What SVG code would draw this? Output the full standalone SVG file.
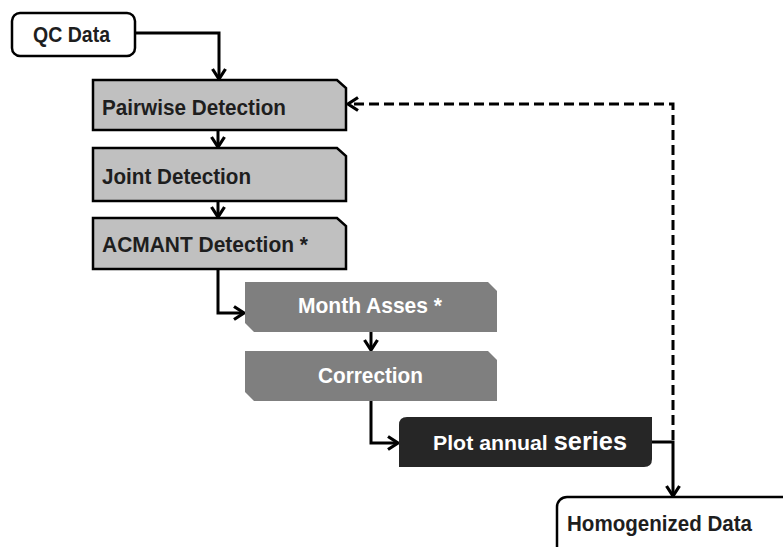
<svg xmlns="http://www.w3.org/2000/svg" width="783" height="547" viewBox="0 0 783 547">
<style>
.lbl{font-family:"Liberation Sans",Arial,sans-serif;font-weight:bold;fill:#1e1e1e;font-size:22px}
.wlbl{font-family:"Liberation Sans",Arial,sans-serif;font-weight:bold;fill:#ffffff;font-size:22px}
.term{fill:#ffffff;stroke:#000;stroke-width:2.5}
.det{fill:#c0c0c0;stroke:#000;stroke-width:2.5}
.proc{fill:#7f7f7f}
.plot{fill:#262626}
.conn{fill:none;stroke:#000;stroke-width:3}
.dash{fill:none;stroke:#000;stroke-width:3;stroke-dasharray:10 5}
</style>
<defs>
<marker id="arr" markerUnits="userSpaceOnUse" markerWidth="16" markerHeight="16" viewBox="0 0 16 16" refX="13" refY="8" orient="auto">
<path d="M3,1.5 L13,8 L3,14.5" fill="none" stroke="#000" stroke-width="3.2"/>
</marker>
</defs>
<rect width="783" height="547" fill="#ffffff"/>
<g id="connectors">
<path class="conn" d="M135,33 H219 V79" marker-end="url(#arr)"/>
<path class="conn" d="M218,130 V147" marker-end="url(#arr)"/>
<path class="conn" d="M218,201 V217" marker-end="url(#arr)"/>
<path class="conn" d="M218,269 V313 H244" marker-end="url(#arr)"/>
<path class="conn" d="M371,332 V350" marker-end="url(#arr)"/>
<path class="conn" d="M371,401 V443 H398" marker-end="url(#arr)"/>
<path class="conn" d="M652,442 H673 V496" marker-end="url(#arr)"/>
<path class="dash" d="M673,440 V104 H348" marker-end="url(#arr)"/>
</g>
<g id="qc-data">
<rect class="term" x="12" y="13" width="123" height="43" rx="8"/>
<text class="lbl" x="33" y="42" textLength="77" lengthAdjust="spacingAndGlyphs">QC Data</text>
</g>
<g id="pairwise-detection">
<polygon class="det" points="93,80 337,80 346,88 346,130 93,130"/>
<text class="lbl" x="102" y="115" textLength="184" lengthAdjust="spacingAndGlyphs">Pairwise Detection</text>
</g>
<g id="joint-detection">
<polygon class="det" points="93,148 337,148 346,156 346,201 93,201"/>
<text class="lbl" x="102" y="184" textLength="149" lengthAdjust="spacingAndGlyphs">Joint Detection</text>
</g>
<g id="acmant-detection">
<polygon class="det" points="93,218 337,218 346,226 346,269 93,269"/>
<text class="lbl" x="102" y="252" textLength="206" lengthAdjust="spacingAndGlyphs">ACMANT Detection *</text>
</g>
<g id="month-asses">
<polygon class="proc" points="245,282 488,282 497,291 497,332 254,332 245,323"/>
<text class="wlbl" x="298" y="313" textLength="144" lengthAdjust="spacingAndGlyphs">Month Asses *</text>
</g>
<g id="correction">
<polygon class="proc" points="245,351 488,351 497,360 497,401 254,401 245,392"/>
<text class="wlbl" x="318" y="383" textLength="105" lengthAdjust="spacingAndGlyphs">Correction</text>
</g>
<g id="plot-annual-series">
<path class="plot" d="M407,417 H652 V459 Q652,467 644,467 H399 V425 Q399,417 407,417 Z"/>
<text class="wlbl" x="433" y="450" textLength="194" lengthAdjust="spacingAndGlyphs"><tspan font-size="21">Plot annual </tspan><tspan font-size="25">series</tspan></text>
</g>
<g id="homogenized-data">
<rect class="term" x="557" y="497" width="250" height="70" rx="10"/>
<text class="lbl" x="567" y="531" textLength="185" lengthAdjust="spacingAndGlyphs">Homogenized Data</text>
</g>
</svg>
